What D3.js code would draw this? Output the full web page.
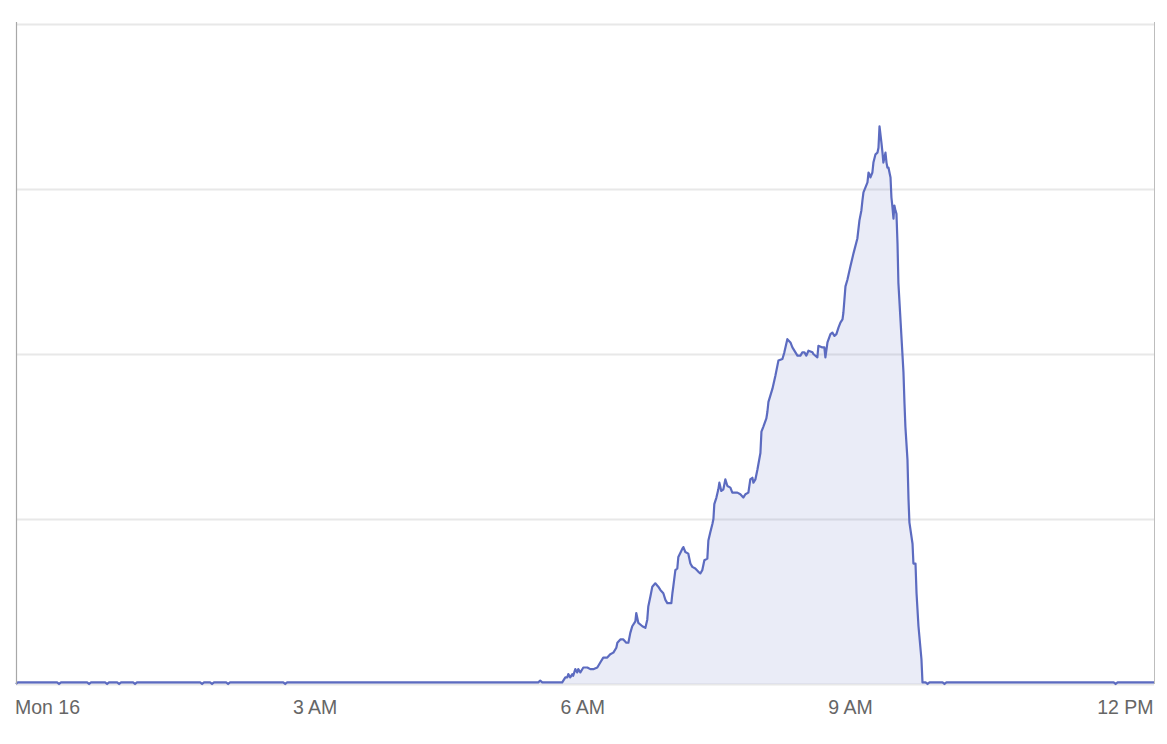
<!DOCTYPE html>
<html>
<head>
<meta charset="utf-8">
<script src="https://cdn.jsdelivr.net/npm/d3@7"></script>
<style>
  body { margin: 0; background: #fff; }
  text { font-family: "Liberation Sans", Arial, sans-serif; }
</style>
</head>
<body>
<div id="chart"></div>
<script>
// minutes after Mon 16 00:00 (negative = late Sunday evening)
const minutes = [
  -20.9, -19.6, 6.8, 8.1, 9.4, 27, 28.3, 29.6, 39.1, 40.4, 41.7, 47.2, 48.5, 49.8,
  57.9, 59.2, 60.5, 103, 104.3, 105.6, 109.7, 111, 112.3, 120.5, 121.8, 123.1,
  158.9, 160.2, 161.5, 330.4, 331.7, 333.1, 345.2,
  346.5, 348.6, 349.9, 350.6, 351.9, 353.3, 353.9, 355.3, 356.6, 357.3, 358.7, 360.7,
  363.4, 365.4, 367.4, 370.1, 372.1, 374.1, 376.8, 378.8, 380.9, 382.9, 383.6, 385.6,
  387.6, 389.6, 391.0, 392.3, 393.6, 395.7, 396.3, 397.7, 400.4, 402.4, 403.7, 404.4,
  405.8, 407.1, 409.1, 411.1, 412.5, 414.5, 415.9, 417.2, 419.9, 420.6, 421.2, 422.6,
  423.9, 424.6, 427.3, 428.0, 429.3, 431.3, 432.7, 434.0, 436.0, 438.1, 439.4, 440.7,
  442.1, 444.1, 444.8, 446.1, 447.5, 448.2, 448.8, 450.2, 451.5, 452.2, 453.5, 454.9,
  456.2, 457.6, 459.6, 460.9, 464.3, 466.3, 468.3, 469.7, 471.7, 473.0, 474.4, 475.1,
  476.4, 477.8, 479.8, 480.5, 481.8, 483.8, 484.5, 485.2, 487.9, 489.9, 491.9, 494.6,
  495.9, 497.9, 500.0, 501.3, 504.7, 506.7, 508.0, 509.4, 510.7, 512.1, 514.8, 515.4,
  518.1, 518.8, 521.5, 522.8, 523.5, 524.9, 526.9, 528.2, 529.6, 530.9, 532.3, 533.6,
  535.0, 535.6, 536.3, 537.0, 538.3, 540.3, 542.4, 545.0, 546.4, 547.7, 548.4, 549.1,
  551.8, 552.5, 553.1, 553.8, 555.1, 555.8, 557.2, 558.5, 559.2, 559.9, 561.2, 561.9,
  562.5, 563.9, 564.6, 565.2, 565.9, 567.3, 567.9, 568.6, 569.3, 569.9, 570.6, 571.3,
  572.0, 572.6, 576.0, 576.7, 577.3, 578.7, 579.4, 580.0, 582.1, 582.7, 584.1, 584.8,
  586.1, 588.1, 588.8,
  590.9, 592.2, 593.5, 602.3, 603.6, 604.9, 717.4, 718.7, 720, 744.5
];
const values = [
  0, 1, 1, 0, 1, 1, 0, 1, 1, 0, 1, 1, 0, 1,
  1, 0, 1, 1, 0, 1, 1, 0, 1, 1, 0, 1,
  1, 0, 1, 1, 2, 1, 1,
  1, 4, 4, 6, 4, 6, 5, 9, 7, 9, 7, 10,
  10, 9, 9, 10, 13, 16, 16, 18, 19, 22, 25, 27,
  27, 25, 25, 31, 35, 38, 43, 37, 35, 34, 39, 47,
  53, 59, 61, 59, 57, 55, 51, 49, 49, 55, 59, 69,
  70, 77, 82, 83, 80, 79, 73, 71, 70, 68, 67, 69,
  75, 76, 87, 92, 97, 100, 109, 113, 118, 122, 117, 118,
  124, 120, 119, 116, 116, 115, 113, 115, 116, 124, 125, 122,
  124, 130, 140, 153, 156, 161, 165, 171, 179, 187, 196, 197,
  201, 209, 207, 204, 199, 199, 201, 201, 199, 202, 201, 200,
  198, 205, 204, 204, 198, 207, 212, 213, 211, 212, 216, 219,
  221, 225, 233, 241, 245, 253, 261, 270, 281, 287, 293, 298,
  304, 310, 309, 307, 310, 316, 321, 322, 325, 338, 328, 322,
  316, 322, 316, 313, 313, 307, 295, 289, 282, 290, 287, 285,
  267, 243, 189, 170, 156, 136, 112, 98, 85, 73, 73, 55,
  35, 15, 1,
  1, 0, 1, 1, 0, 1, 1, 0, 1, 1
];
const yTicks = [0, 100, 200, 300, 400];
const tickHours = [0, 3, 6, 9, 12];
const windowStart = -20.85;   // minutes
const windowEnd = 744.5;

const W = 1167, H = 744;
const plotLeft = 16, plotRight = 1154, plotTop = 24, plotBottom = 684;

const day = new Date(2023, 9, 16);
const toDate = m => new Date(day.getTime() + m * 60000);

const data = minutes.map((m, i) => ({ t: toDate(m), v: values[i] }));

const x = d3.scaleTime()
    .domain([toDate(windowStart), toDate(windowEnd)])
    .range([plotLeft, plotRight]);

const y = d3.scaleLinear()
    .domain([0, 400])
    .range([plotBottom, plotTop]);

const svg = d3.select('#chart')
    .append('svg')
    .attr('width', W)
    .attr('height', H);

// grid lines
const grid = svg.append('g')
    .attr('transform', `translate(${plotLeft},0)`)
    .call(d3.axisLeft(y).tickValues(yTicks).tickSize(-(plotRight - plotLeft)).tickFormat(''));
grid.select('.domain').remove();
grid.selectAll('line').attr('stroke', '#e8e8e8').attr('stroke-width', 2);

// area + line
const area = d3.area()
    .x(d => x(d.t))
    .y0(y(0))
    .y1(d => y(d.v));
const line = d3.line()
    .x(d => x(d.t))
    .y(d => y(d.v));

svg.append('path')
    .datum(data)
    .attr('d', area)
    .attr('fill', '#5c6bc0')
    .attr('fill-opacity', 0.13);

svg.append('path')
    .datum(data)
    .attr('d', line)
    .attr('fill', 'none')
    .attr('stroke', '#5c6bc0')
    .attr('stroke-width', 2.2)
    .attr('stroke-linejoin', 'round');

// side lines
svg.append('line')
    .attr('x1', plotLeft + 0.5).attr('x2', plotLeft + 0.5)
    .attr('y1', plotTop - 2).attr('y2', plotBottom)
    .attr('stroke', '#a8a8a8').attr('stroke-width', 1.2);
svg.append('line')
    .attr('x1', plotRight + 0.5).attr('x2', plotRight + 0.5)
    .attr('y1', plotTop - 2).attr('y2', plotBottom)
    .attr('stroke', '#bdbdbd').attr('stroke-width', 1);

// x axis labels
const fmt = d => d.getHours() === 0 ? d3.timeFormat('%a %-d')(d) : d3.timeFormat('%-I %p')(d);
const xAxis = svg.append('g')
    .attr('transform', `translate(0,${plotBottom})`)
    .call(d3.axisBottom(x)
        .tickValues(tickHours.map(h => toDate(h * 60)))
        .tickSize(0)
        .tickPadding(16)
        .tickFormat(fmt));
xAxis.select('.domain').remove();
xAxis.selectAll('text')
    .attr('fill', '#666')
    .style('font-size', '19.5px');

// keep the last label inside the plot
const lastTick = toDate(tickHours[tickHours.length - 1] * 60);
xAxis.selectAll('.tick').filter(d => +d === +lastTick).select('text')
    .attr('text-anchor', 'end')
    .attr('x', plotRight - x(lastTick) - 1);
</script>
</body>
</html>
